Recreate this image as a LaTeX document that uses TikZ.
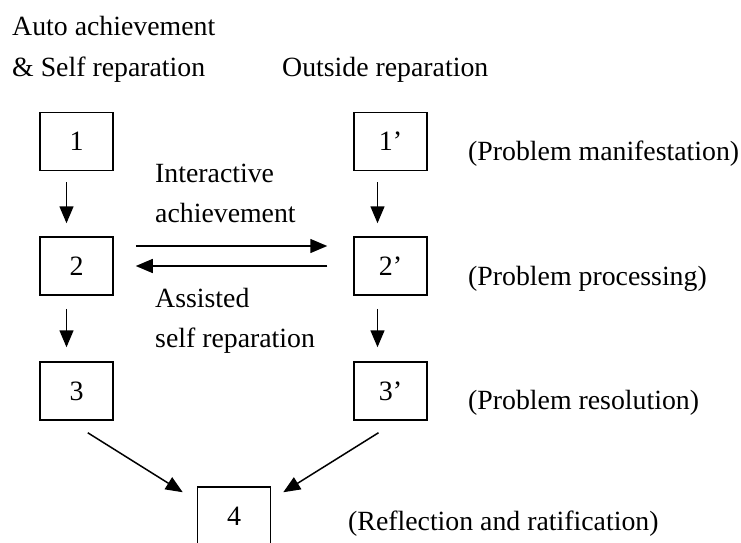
\documentclass[tikz,border=0pt]{standalone}
\usepackage{fontspec}
\setmainfont{Liberation Serif}
\usetikzlibrary{arrows.meta}
\begin{document}
\begin{tikzpicture}[x=1pt,y=-1pt,
  box/.style={draw,line width=1.5pt,minimum width=73pt,minimum height=58pt,inner sep=0pt,font=\fontsize{28}{30}\selectfont},
  lbl/.style={anchor=base west,inner sep=0pt,font=\fontsize{27.8}{30}\selectfont},
  arr/.style={line width=1.5pt,-{Triangle[length=17pt,width=14pt]}}]
\useasboundingbox (0,0) rectangle (741,543);
\node[box] (b1) at (76.5,141.5) {1};
\node[box] (b2) at (76.5,266) {2};
\node[box] (b3) at (76.5,391) {3};
\node[box] (b1p) at (390.5,141.5) {1’};
\node[box] (b2p) at (390.5,266) {2’};
\node[box] (b3p) at (390.5,391) {3’};
\node[box] (b4) at (234,516) {4};
\node[lbl] (t1) at (12,36) {Auto achievement};
\node[lbl] (t2) at (12,77) {\& Self reparation};
\node[lbl] (t3) at (282,77) {Outside reparation};
\node[lbl] (t4) at (155,182) {Interactive};
\node[lbl] (t5) at (155,222) {achievement};
\node[lbl] (t6) at (155,307) {Assisted};
\node[lbl] (t7) at (155,347) {self reparation};
\node[lbl] (p1) at (468,160) {(Problem manifestation)};
\node[lbl] (p2) at (468,285) {(Problem processing)};
\node[lbl] (p3) at (468,409) {(Problem resolution)};
\node[lbl] (p4) at (348,530) {(Reflection and ratification)};
\draw[arr] ([xshift=-10pt,yshift=-11pt]b1.south) -- ([xshift=-10pt,yshift=13pt]b2.north);
\draw[arr] ([xshift=-10pt,yshift=-13pt]b2.south) -- ([xshift=-10pt,yshift=14pt]b3.north);
\draw[arr] ([xshift=-13pt,yshift=-11pt]b1p.south) -- ([xshift=-13pt,yshift=13pt]b2p.north);
\draw[arr] ([xshift=-13pt,yshift=-13pt]b2p.south) -- ([xshift=-13pt,yshift=14pt]b3p.north);
\draw[arr] ([xshift=22pt,yshift=20pt]b2.east) -- ([xshift=-26pt,yshift=20pt]b2p.west);
\draw[arr] ([xshift=-26pt]b2p.west) -- ([xshift=22pt]b2.east);
\draw[arr] ([xshift=-26pt,yshift=-12pt]b3.south east) -- ([xshift=-14pt,yshift=-6pt]b4.north west);
\draw[arr] ([xshift=-12pt,yshift=-12pt]b3p.south) -- ([xshift=12pt,yshift=-6pt]b4.north east);
\end{tikzpicture}
\end{document}
